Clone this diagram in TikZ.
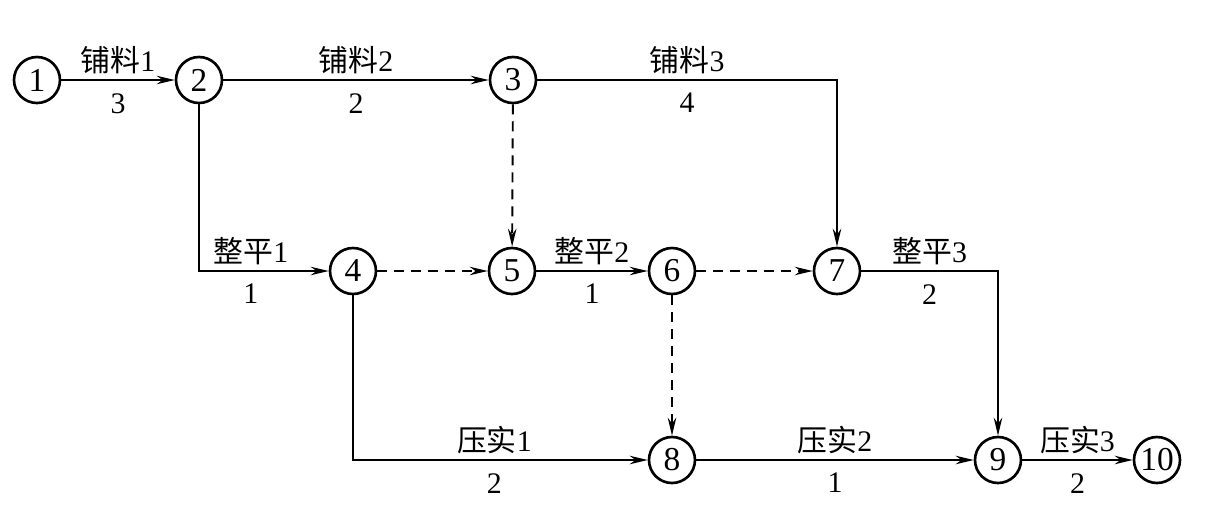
\documentclass[tikz,border=0pt]{standalone}
\usepackage{fontspec}
\setmainfont{Liberation Serif}
\newfontfamily\cjk{Noto Sans CJK SC}
\usetikzlibrary{arrows.meta}
\tikzset{
  event/.style={circle, draw, line width=1.5pt, minimum size=0.92cm, inner sep=0pt, font=\fontsize{19}{20}\selectfont},
  work/.style={-{Stealth[length=0.36cm, width=0.17cm]}, line width=1.1pt},
  dummy/.style={work, dash pattern=on 0.2cm off 0.14cm},
  lab/.style={inner sep=3pt},
  blab/.style={inner sep=7pt}
}
\begin{document}
\begin{tikzpicture}[x=0.02cm, y=-0.02cm, font=\fontsize{17}{19}\selectfont]
    \useasboundingbox (0,0) rectangle (1205,505);

    % Events (row 1, row 2, row 3)
    \node[event] (n1) at (37,80) {1};
    \node[event] (n2) at (199,80) {2};
    \node[event] (n3) at (513,80) {3};
    \node[event] (n4) at (353,271) {4};
    \node[event] (n5) at (512,271) {5};
    \node[event] (n6) at (672,271) {6};
    \node[event] (n7) at (837,271) {7};
    \node[event] (n8) at (672,460) {8};
    \node[event] (n9) at (998,460) {9};
    \node[event] (n10) at (1157,460) {10};

    % Real works
    \draw[work] (n1) -- node[lab, above] {{\cjk 铺料}1} node[blab, below] {3} (n2);
    \draw[work] (n2) -- node[lab, above] {{\cjk 铺料}2} node[blab, below] {2} (n3);
    \draw[work] (n3) -| node[lab, pos=0.25, above] {{\cjk 铺料}3} node[blab, pos=0.25, below] {4} (n7);
    \draw[work] (n2) |- node[lab, pos=0.7, above] {{\cjk 整平}1} node[blab, pos=0.7, below] {1} (n4);
    \draw[work] (n5) -- node[lab, above] {{\cjk 整平}2} node[blab, below] {1} (n6);
    \draw[work] (n7) -| node[lab, pos=0.25, above] {{\cjk 整平}3} node[blab, pos=0.25, below] {2} (n9);
    \draw[work] (n4) |- node[lab, pos=0.74, above] {{\cjk 压实}1} node[blab, pos=0.74, below] {2} (n8);
    \draw[work] (n8) -- node[lab, above] {{\cjk 压实}2} node[blab, below] {1} (n9);
    \draw[work] (n9) -- node[lab, above] {{\cjk 压实}3} node[blab, below] {2} (n10);

    % Dummy works
    \draw[dummy] (n3) -- (n5);
    \draw[dummy] (n4) -- (n5);
    \draw[dummy] (n6) -- (n7);
    \draw[dummy] (n6) -- (n8);
\end{tikzpicture}
\end{document}
